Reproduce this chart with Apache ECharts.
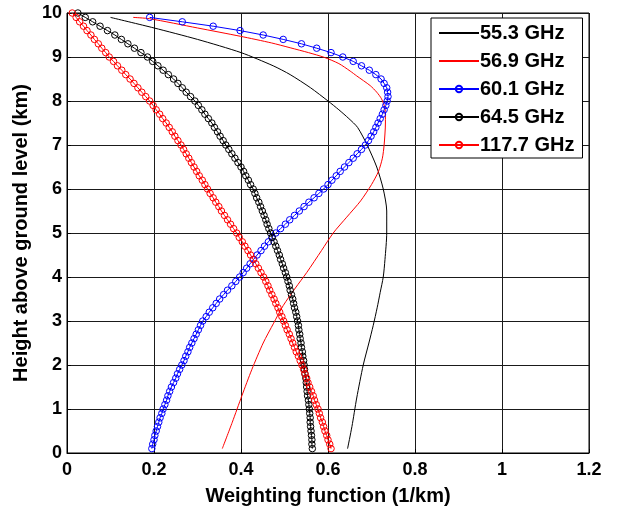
<!DOCTYPE html>
<html>
<head>
<meta charset="utf-8">
<script src="https://cdn.jsdelivr.net/npm/echarts@6/dist/echarts.min.js"></script>
<style>
  html, body { margin: 0; padding: 0; background: #fff; }
  #chart { width: 617px; height: 511px; }
</style>
</head>
<body>
<div id="chart"></div>
<script>
// Sampling heights (km) for the marked profiles
const heights = [
  0.1, 0.2, 0.3, 0.4, 0.5, 0.6, 0.7, 0.8, 0.9, 1.0,
  1.1, 1.2, 1.3, 1.4, 1.5, 1.6, 1.7, 1.8, 1.9, 2.0,
  2.1, 2.2, 2.3, 2.4, 2.5, 2.6, 2.7, 2.8, 2.9, 3.0,
  3.1, 3.2, 3.3, 3.4, 3.5, 3.6, 3.7, 3.8, 3.9, 4.0,
  4.1, 4.2, 4.3, 4.4, 4.5, 4.6, 4.7, 4.8, 4.9, 5.0,
  5.1, 5.2, 5.3, 5.4, 5.5, 5.6, 5.7, 5.8, 5.9, 6.0,
  6.1, 6.2, 6.3, 6.4, 6.5, 6.6, 6.7, 6.8, 6.9, 7.0,
  7.1, 7.2, 7.3, 7.4, 7.5, 7.6, 7.7, 7.8, 7.9, 8.0,
  8.1, 8.2, 8.3, 8.4, 8.5, 8.6, 8.7, 8.8, 8.9, 9.0,
  9.1, 9.2, 9.3, 9.4, 9.5, 9.6, 9.7, 9.8, 9.9, 10.0
];

// 60.1 GHz weighting function (1/km), 0.1 to 9.9 km
const wf601 = [
  0.195, 0.197, 0.200, 0.202, 0.205, 0.208, 0.211, 0.214, 0.218, 0.221,
  0.225, 0.229, 0.232, 0.236, 0.240, 0.245, 0.250, 0.254, 0.259, 0.264,
  0.269, 0.273, 0.278, 0.282, 0.287, 0.292, 0.297, 0.302, 0.307, 0.312,
  0.320, 0.327, 0.335, 0.343, 0.351, 0.360, 0.369, 0.379, 0.388, 0.397,
  0.405, 0.413, 0.421, 0.429, 0.437, 0.446, 0.454, 0.463, 0.471, 0.480,
  0.491, 0.502, 0.512, 0.523, 0.534, 0.545, 0.556, 0.568, 0.579, 0.590,
  0.600, 0.609, 0.619, 0.628, 0.638, 0.648, 0.658, 0.667, 0.677, 0.686,
  0.693, 0.699, 0.705, 0.710, 0.715, 0.720, 0.725, 0.729, 0.733, 0.736,
  0.738, 0.737, 0.735, 0.729, 0.722, 0.710, 0.695, 0.677, 0.658, 0.634,
  0.607, 0.574, 0.539, 0.497, 0.451, 0.398, 0.336, 0.265, 0.190
];

// 64.5 GHz weighting function (1/km), 0.1 to 10 km
const wf645 = [
  0.564, 0.563, 0.563, 0.562, 0.561, 0.560, 0.559, 0.559, 0.558, 0.557,
  0.556, 0.555, 0.553, 0.552, 0.551, 0.550, 0.549, 0.547, 0.546, 0.545,
  0.544, 0.542, 0.541, 0.539, 0.538, 0.536, 0.535, 0.533, 0.532, 0.530,
  0.528, 0.526, 0.523, 0.521, 0.519, 0.516, 0.513, 0.511, 0.508, 0.505,
  0.502, 0.498, 0.495, 0.491, 0.488, 0.484, 0.480, 0.476, 0.472, 0.468,
  0.464, 0.460, 0.457, 0.453, 0.449, 0.445, 0.441, 0.436, 0.432, 0.428,
  0.422, 0.417, 0.411, 0.406, 0.400, 0.393, 0.386, 0.379, 0.372, 0.365,
  0.359, 0.352, 0.346, 0.339, 0.333, 0.325, 0.317, 0.310, 0.302, 0.294,
  0.284, 0.274, 0.265, 0.255, 0.245, 0.233, 0.221, 0.209, 0.197, 0.185,
  0.170, 0.155, 0.140, 0.125, 0.110, 0.093, 0.076, 0.059, 0.042, 0.025
];

// 117.7 GHz weighting function (1/km), 0.1 to 10 km
const wf1177 = [
  0.607, 0.604, 0.600, 0.597, 0.593, 0.590, 0.587, 0.583, 0.580, 0.577,
  0.573, 0.569, 0.566, 0.562, 0.558, 0.554, 0.551, 0.547, 0.544, 0.540,
  0.536, 0.532, 0.527, 0.523, 0.519, 0.515, 0.511, 0.506, 0.502, 0.498,
  0.494, 0.489, 0.485, 0.480, 0.476, 0.471, 0.466, 0.462, 0.457, 0.452,
  0.446, 0.440, 0.434, 0.428, 0.422, 0.416, 0.409, 0.403, 0.396, 0.390,
  0.383, 0.376, 0.369, 0.362, 0.355, 0.349, 0.342, 0.336, 0.329, 0.323,
  0.317, 0.311, 0.304, 0.298, 0.292, 0.286, 0.280, 0.274, 0.268, 0.262,
  0.255, 0.248, 0.242, 0.235, 0.228, 0.220, 0.213, 0.205, 0.198, 0.190,
  0.181, 0.172, 0.163, 0.154, 0.145, 0.135, 0.126, 0.116, 0.107, 0.097,
  0.089, 0.080, 0.072, 0.063, 0.055, 0.046, 0.038, 0.029, 0.021, 0.012
];

// 55.3 GHz profile (unmarked line)
const h553  = [0.1, 0.6, 1.25, 2.0, 2.5, 2.9, 3.3, 3.65, 4.0, 4.4, 5.0, 5.5, 6.0, 6.5, 7.0, 7.4, 7.6, 7.8, 8.0, 8.3, 8.6, 8.8, 9.1, 9.4, 9.66, 9.9];
const wf553 = [0.645, 0.655, 0.666, 0.681, 0.694, 0.704, 0.713, 0.720, 0.727, 0.731, 0.735, 0.735, 0.727, 0.712, 0.690, 0.668, 0.648, 0.625, 0.600, 0.560, 0.513, 0.474, 0.400, 0.300, 0.200, 0.100];

// 56.9 GHz profile (unmarked line)
const h569  = [0.1, 0.7, 1.3, 1.9, 2.5, 2.95, 3.35, 3.75, 4.1, 4.6, 5.0, 5.36, 5.73, 6.1, 6.4, 6.7, 7.0, 7.5, 7.83, 8.05, 8.2, 8.35, 8.57, 8.68, 8.85, 8.99, 9.1, 9.21, 9.32, 9.47, 9.66, 9.87, 9.9];
const wf569 = [0.357, 0.380, 0.402, 0.425, 0.451, 0.475, 0.497, 0.525, 0.551, 0.585, 0.612, 0.643, 0.675, 0.700, 0.716, 0.725, 0.729, 0.732, 0.731, 0.723, 0.712, 0.697, 0.666, 0.651, 0.625, 0.592, 0.555, 0.513, 0.470, 0.399, 0.300, 0.190, 0.152];

// Axis ticks
const xTicks = [0, 0.2, 0.4, 0.6, 0.8, 1, 1.2];
const yTicks = [0, 1, 2, 3, 4, 5, 6, 7, 8, 9, 10];

const FONT = '"Liberation Sans", Arial, Helvetica, sans-serif';

function pairs(values, hs) {
  return values.map((v, i) => [v, hs[i]]);
}

function markedSeries(name, color, values) {
  return {
    name: name,
    type: 'line',
    data: pairs(values, heights),
    symbol: 'circle',
    symbolSize: 6.5,
    showAllSymbol: true,
    color: color,
    lineStyle: { color: color, width: 1 },
    itemStyle: { color: 'rgba(255,255,255,0)', borderColor: color, borderWidth: 1 },
    emphasis: { disabled: true },
    z: 3
  };
}

function plainSeries(name, color, values, hs) {
  return {
    name: name,
    type: 'line',
    data: pairs(values, hs),
    symbol: 'none',
    smooth: 0.25,
    color: color,
    lineStyle: { color: color, width: 1 },
    // no point glyph in the legend swatch, only the line
    itemStyle: { color: 'rgba(0,0,0,0)', borderWidth: 0 },
    emphasis: { disabled: true },
    z: 2
  };
}

const chart = echarts.init(document.getElementById('chart'), null, { renderer: 'canvas' });

chart.setOption({
  animation: false,
  backgroundColor: '#ffffff',
  textStyle: { fontFamily: FONT },
  grid: {
    left: 67, right: 28, top: 13, bottom: 52,
    show: true, borderColor: '#000', borderWidth: 1, backgroundColor: 'transparent'
  },
  legend: {
    orient: 'vertical',
    left: 431, top: 18,
    backgroundColor: '#fff',
    borderColor: '#000',
    borderWidth: 1,
    padding: [5, 8, 3, 7],
    itemWidth: 40,
    itemHeight: 8,
    itemGap: 8,
    textStyle: { fontFamily: FONT, fontSize: 20, fontWeight: 'bold', color: '#000', padding: [0, 0, 0, -4] },
    data: ['55.3 GHz', '56.9 GHz', '60.1 GHz', '64.5 GHz', '117.7 GHz']
  },
  xAxis: {
    type: 'value',
    min: xTicks[0],
    max: xTicks[xTicks.length - 1],
    interval: 0.2,
    name: 'Weighting function (1/km)',
    nameLocation: 'middle',
    nameGap: 33,
    nameTextStyle: { fontFamily: FONT, fontSize: 20, fontWeight: 'bold', color: '#000' },
    axisLine: { show: true, onZero: false, lineStyle: { color: '#000', width: 1 } },
    axisTick: { show: true, inside: true, length: 4, lineStyle: { color: '#000' } },
    axisLabel: {
      fontFamily: FONT, fontSize: 18, fontWeight: 'bold', color: '#000', margin: 8,
      formatter: v => String(Math.round(v * 10) / 10)
    },
    splitLine: { show: true, lineStyle: { color: '#1a1a1a', width: 1 } }
  },
  yAxis: {
    type: 'value',
    min: yTicks[0],
    max: yTicks[yTicks.length - 1],
    interval: 1,
    name: 'Height above ground level (km)',
    nameLocation: 'middle',
    nameGap: 33,
    nameTextStyle: { fontFamily: FONT, fontSize: 20, fontWeight: 'bold', color: '#000' },
    axisLine: { show: true, onZero: false, lineStyle: { color: '#000', width: 1 } },
    axisTick: { show: true, inside: true, length: 4, lineStyle: { color: '#000' } },
    axisLabel: { fontFamily: FONT, fontSize: 18, fontWeight: 'bold', color: '#000', margin: 5 },
    splitLine: { show: true, lineStyle: { color: '#1a1a1a', width: 1 } }
  },
  series: [
    plainSeries('55.3 GHz', '#000000', wf553, h553),
    plainSeries('56.9 GHz', '#ff0000', wf569, h569),
    markedSeries('60.1 GHz', '#0000ff', wf601),
    markedSeries('64.5 GHz', '#000000', wf645),
    markedSeries('117.7 GHz', '#ff0000', wf1177)
  ]
});
</script>
</body>
</html>
